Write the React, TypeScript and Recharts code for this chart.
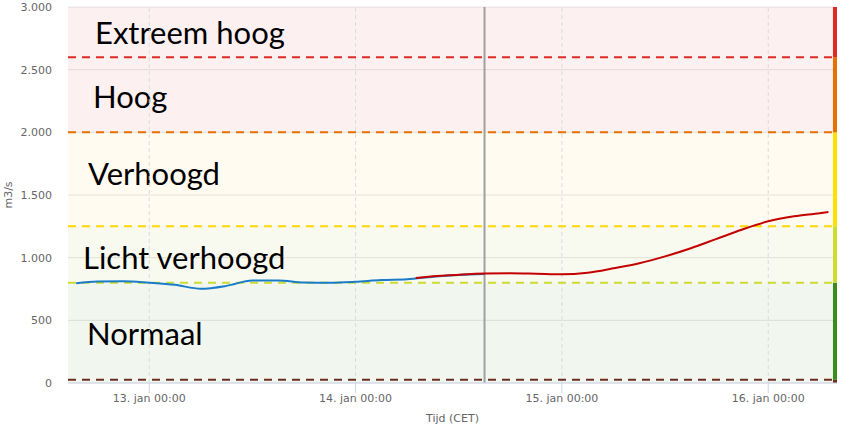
import { ComposedChart, Line, XAxis, YAxis, CartesianGrid, ReferenceArea, ReferenceLine } from 'recharts'

// hours since 13 jan 00:00 (CET)
const measuredHours = [-8.5, -6, -3, 0, 3, 6, 9, 12, 15, 18, 21, 24, 27, 30, 33, 36, 39]
const measuredValues = [795, 810, 812, 800, 783, 752, 775, 818, 818, 802, 800, 808, 822, 828, 848, 862, 870]

const forecastHours = [31, 34, 37, 39, 42, 45, 48, 51, 54, 57, 60, 63, 66, 69, 72, 75, 78, 79]
const forecastValues = [838, 855, 868, 873, 876, 872, 867, 880, 915, 955, 1010, 1075, 1150, 1225, 1290, 1330, 1355, 1365]

const nowHour = 39

const dayTicks = [0, 24, 48, 72]
const dayLabels = ['13. jan 00:00', '14. jan 00:00', '15. jan 00:00', '16. jan 00:00']

const yTicks = [0, 500, 1000, 1500, 2000, 2500, 3000]

// threshold bands (m3/s)
const bandFrom = [0, 25, 800, 1250, 2000, 2600]
const bandTo = [25, 800, 1250, 2000, 2600, 3000]
const bandNames = ['', 'Normaal', 'Licht verhoogd', 'Verhoogd', 'Hoog', 'Extreem hoog']
const thresholds = [25, 800, 1250, 2000, 2600]

// styling
const bandFill = [
  'rgba(60,140,30,0.07)',
  'rgba(60,140,30,0.07)',
  'rgba(170,190,70,0.08)',
  'rgba(255,200,40,0.07)',
  'rgba(220,40,40,0.07)',
  'rgba(220,40,40,0.07)',
]
const bandStrip = ['#6b2e1e', '#3a8c1c', '#cddc30', '#ffe000', '#e87000', '#dd2a22']
const thresholdColors = ['#6b2e1e', '#cddc30', '#ffd800', '#e87000', '#dd2a22']
const labelDx = [0, 19, 15, 20, 25, 27]
const labelDy = [0, 14, 14, 6, 13, 12]

const X_MIN = -9.45
const X_MAX = 80

const fmtThousands = (v: number) => String(v).replace(/\B(?=(\d{3})+(?!\d))/g, '.')

const measured = measuredHours.map((t, i) => ({ t, v: measuredValues[i] }))
const forecast = forecastHours.map((t, i) => ({ t, v: forecastValues[i] }))

const axisFont = { fontSize: 11, fill: '#666666', fontFamily: '"DejaVu Sans", Verdana, sans-serif' }

export default function App() {
  return (
    <div style={{ position: 'absolute', left: 0, top: 0, background: '#fff' }}>
      <ComposedChart width={843} height={429} margin={{ top: 7, right: 6, left: 0, bottom: 16 }}>
        {/* coloured background bands */}
        {bandFrom.map((from, i) => (
          <ReferenceArea
            key={'band' + i}
            y1={from}
            y2={bandTo[i]}
            x1={X_MIN}
            x2={X_MAX}
            fill={bandFill[i]}
            fillOpacity={1}
            stroke="none"
            ifOverflow="visible"
            label={
              bandNames[i]
                ? (props: any) => {
                    const vb = props.viewBox
                    return (
                      <text
                        x={vb.x + labelDx[i]}
                        y={vb.y + vb.height / 2 + labelDy[i]}
                        fontSize={31}
                        fontFamily="Lato, 'Open Sans', sans-serif"
                        fill="#000"
                      >
                        {bandNames[i]}
                      </text>
                    )
                  }
                : undefined
            }
          />
        ))}

        <CartesianGrid vertical={false} stroke="#e6e6e6" />

        <XAxis
          type="number"
          dataKey="t"
          domain={[X_MIN, X_MAX]}
          allowDataOverflow
          ticks={dayTicks}
          tickFormatter={(v: number) => dayLabels[dayTicks.indexOf(v)]}
          tick={axisFont}
          tickSize={10}
          tickMargin={1}
          stroke="#ccd6eb"
          height={30}
          label={{ value: 'Tijd (CET)', position: 'insideBottom', offset: -9, ...axisFont }}
        />
        <YAxis
          type="number"
          domain={[0, 3000]}
          ticks={yTicks}
          tickFormatter={fmtThousands}
          tick={axisFont}
          tickLine={false}
          axisLine={false}
          tickSize={6}
          tickMargin={10}
          width={68}
          label={(props: any) => {
            const vb = props.viewBox
            const cx = vb.x + 8
            const cy = vb.y + vb.height / 2
            return (
              <text
                x={cx}
                y={cy}
                transform={`rotate(-90 ${cx} ${cy})`}
                textAnchor="middle"
                dominantBaseline="central"
                {...axisFont}
              >
                m3/s
              </text>
            )
          }}
        />

        {/* vertical day gridlines */}
        {dayTicks.map((d) => (
          <ReferenceLine key={'d' + d} x={d} stroke="#dcdcdc" strokeDasharray="4 3" />
        ))}

        {/* threshold lines */}
        {thresholds.map((y, i) => (
          <ReferenceLine key={'thr' + i} y={y} stroke={thresholdColors[i]} strokeWidth={2} strokeDasharray="8 6" />
        ))}

        {/* coloured strip on the right */}
        {bandFrom.map((from, i) => (
          <ReferenceArea
            key={'strip' + i}
            y1={from}
            y2={bandTo[i]}
            x1={X_MAX - 0.47}
            x2={X_MAX}
            fill={bandStrip[i]}
            fillOpacity={1}
            stroke="none"
          />
        ))}

        <ReferenceLine x={nowHour} stroke="#a0a0a0" strokeWidth={2} />

        <Line
          data={measured}
          dataKey="v"
          type="monotone"
          stroke="#1a7cc9"
          strokeWidth={2}
          dot={false}
          activeDot={false}
          isAnimationActive={false}
        />
        <Line
          data={forecast}
          dataKey="v"
          type="monotone"
          stroke="#c40000"
          strokeWidth={2}
          dot={false}
          activeDot={false}
          isAnimationActive={false}
        />
      </ComposedChart>
    </div>
  )
}
